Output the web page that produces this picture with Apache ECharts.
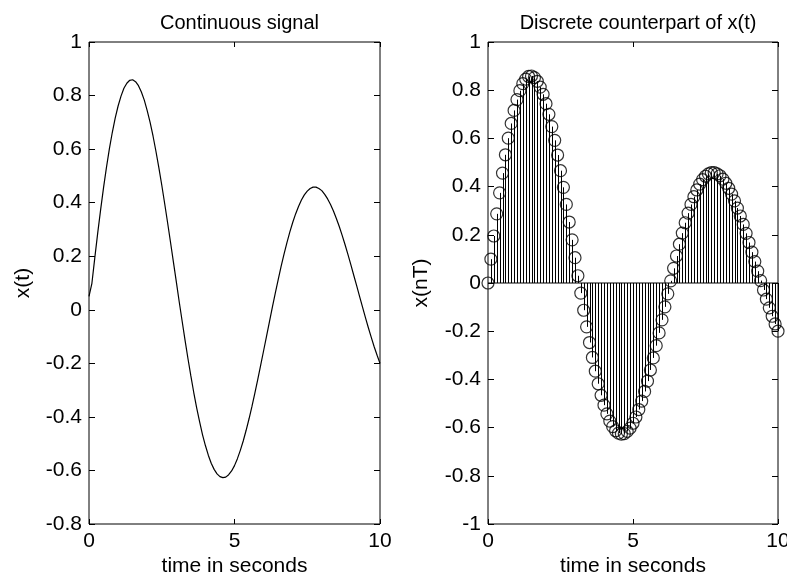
<!DOCTYPE html>
<html>
<head>
<meta charset="utf-8">
<script src="https://cdn.jsdelivr.net/npm/echarts@6/dist/echarts.min.js"></script>
<style>html,body{margin:0;padding:0;background:#fff}#c{width:787px;height:575px}</style>
</head>
<body>
<div id="c"></div>
<script>
var timeSec = [0,0.1,0.2,0.3,0.4,0.5,0.6,0.7,0.8,0.9,1,1.1,1.2,1.3,1.4,1.5,1.6,1.7,1.8,1.9,2,2.1,2.2,2.3,2.4,2.5,2.6,2.7,2.8,2.9,3,3.1,3.2,3.3,3.4,3.5,3.6,3.7,3.8,3.9,4,4.1,4.2,4.3,4.4,4.5,4.6,4.7,4.8,4.9,5,5.1,5.2,5.3,5.4,5.5,5.6,5.7,5.8,5.9,6,6.1,6.2,6.3,6.4,6.5,6.6,6.7,6.8,6.9,7,7.1,7.2,7.3,7.4,7.5,7.6,7.7,7.8,7.9,8,8.1,8.2,8.3,8.4,8.5,8.6,8.7,8.8,8.9,9,9.1,9.2,9.3,9.4,9.5,9.6,9.7,9.8,9.9,10];
var sampleValues = [0,0.099,0.195,0.287,0.374,0.456,0.532,0.601,0.662,0.716,0.761,0.798,0.827,0.846,0.857,0.859,0.852,0.837,0.813,0.783,0.744,0.700,0.649,0.592,0.531,0.466,0.397,0.326,0.253,0.179,0.105,0.030,-0.042,-0.113,-0.182,-0.247,-0.309,-0.366,-0.418,-0.466,-0.507,-0.543,-0.573,-0.596,-0.613,-0.623,-0.627,-0.625,-0.616,-0.602,-0.582,-0.556,-0.525,-0.490,-0.450,-0.407,-0.361,-0.311,-0.260,-0.207,-0.153,-0.099,-0.045,0.009,0.061,0.112,0.161,0.207,0.250,0.290,0.326,0.358,0.386,0.410,0.429,0.443,0.453,0.458,0.458,0.453,0.445,0.431,0.414,0.393,0.369,0.341,0.311,0.278,0.243,0.206,0.168,0.128,0.089,0.049,0.010,-0.029,-0.067,-0.103,-0.138,-0.170,-0.200];
var continuousValues = [0.05,0.099,0.195,0.287,0.374,0.456,0.532,0.601,0.662,0.716,0.761,0.798,0.827,0.846,0.857,0.859,0.852,0.837,0.813,0.783,0.744,0.700,0.649,0.592,0.531,0.466,0.397,0.326,0.253,0.179,0.105,0.030,-0.042,-0.113,-0.182,-0.247,-0.309,-0.366,-0.418,-0.466,-0.507,-0.543,-0.573,-0.596,-0.613,-0.623,-0.627,-0.625,-0.616,-0.602,-0.582,-0.556,-0.525,-0.490,-0.450,-0.407,-0.361,-0.311,-0.260,-0.207,-0.153,-0.099,-0.045,0.009,0.061,0.112,0.161,0.207,0.250,0.290,0.326,0.358,0.386,0.410,0.429,0.443,0.453,0.458,0.458,0.453,0.445,0.431,0.414,0.393,0.369,0.341,0.311,0.278,0.243,0.206,0.168,0.128,0.089,0.049,0.010,-0.029,-0.067,-0.103,-0.138,-0.170,-0.200];
var titles = ['Continuous signal', 'Discrete counterpart of x(t)'];
var xLabel = 'time in seconds';
var yLabels = ['x(t)', 'x(nT)'];

var FONT = "'Liberation Sans', Arial, sans-serif";
var FS = 21;
var chart = echarts.init(document.getElementById('c'), null, {renderer: 'canvas'});

function pairs(xs, ys) { return xs.map(function (x, i) { return [x, ys[i]]; }); }

function xAx(grid, pos, showLabel, name) {
  return {
    type: 'value', gridIndex: grid, position: pos, min: 0, max: 10, interval: 5,
    axisLine: {show: false, onZero: false},
    axisTick: {show: true, inside: true, length: 5, lineStyle: {color: '#000'}},
    axisLabel: {show: showLabel, color: '#000', fontFamily: FONT, fontSize: FS, margin: 7},
    splitLine: {show: false},
    name: name || '', nameLocation: 'middle', nameGap: 32, nameMoveOverlap: false,
    nameTextStyle: {color: '#000', fontFamily: FONT, fontSize: FS}
  };
}
function yAx(grid, pos, showLabel, min, name, gap) {
  return {
    type: 'value', gridIndex: grid, position: pos, min: min, max: 1, interval: 0.2,
    axisLine: {show: false, onZero: false},
    axisTick: {show: true, inside: true, length: 6, lineStyle: {color: '#000'}},
    axisLabel: {show: showLabel, color: '#000', fontFamily: FONT, fontSize: FS, margin: 7},
    splitLine: {show: false},
    name: name || '', nameLocation: 'middle', nameGap: gap || 30, nameMoveOverlap: false,
    nameTextStyle: {color: '#000', fontFamily: FONT, fontSize: FS}
  };
}

var option = {
  backgroundColor: '#fff',
  animation: false,
  title: [
    {text: titles[0], left: 234.5, top: 8, textAlign: 'center', textStyle: {color: '#000', fontFamily: FONT, fontSize: 20, fontWeight: 'normal'}},
    {text: titles[1], left: 633, top: 8, textAlign: 'center', textStyle: {color: '#000', fontFamily: FONT, fontSize: 20, fontWeight: 'normal'}}
  ],
  grid: [
    {left: 89, right: 407, top: 42, bottom: 51, outerBoundsMode: 'none', containLabel: false, show: true, borderColor: '#000', borderWidth: 1, backgroundColor: 'transparent'},
    {left: 488, right: 9, top: 42, bottom: 51, outerBoundsMode: 'none', containLabel: false, show: true, borderColor: '#000', borderWidth: 1, backgroundColor: 'transparent'}
  ],
  xAxis: [
    xAx(0, 'bottom', true, xLabel), xAx(0, 'top', false),
    xAx(1, 'bottom', true, xLabel), xAx(1, 'top', false)
  ],
  yAxis: [
    yAx(0, 'left', true, -0.8, yLabels[0], 55), yAx(0, 'right', false, -0.8),
    yAx(1, 'left', true, -1, yLabels[1], 56), yAx(1, 'right', false, -1)
  ],
  series: [
    {
      type: 'line', xAxisIndex: 0, yAxisIndex: 0,
      data: pairs(timeSec, continuousValues),
      showSymbol: false, symbol: 'none',
      lineStyle: {color: '#000', width: 1.2}
    },
    {
      type: 'custom', xAxisIndex: 2, yAxisIndex: 2,
      data: pairs(timeSec, sampleValues),
      renderItem: function (params, api) {
        var p0 = api.coord([api.value(0), 0]);
        var p1 = api.coord([api.value(0), api.value(1)]);
        return {type: 'line', shape: {x1: Math.round(p0[0]) + 0.5, y1: p0[1], x2: Math.round(p1[0]) + 0.5, y2: p1[1]}, style: {stroke: '#000', lineWidth: 1}};
      },
      silent: true
    },
    {
      type: 'line', xAxisIndex: 2, yAxisIndex: 2,
      data: [[timeSec[0], 0], [timeSec[timeSec.length - 1], 0]],
      symbol: 'none', lineStyle: {color: '#000', width: 1}, silent: true
    },
    {
      type: 'scatter', xAxisIndex: 2, yAxisIndex: 2,
      data: pairs(timeSec, sampleValues),
      symbol: 'circle', symbolSize: 12, clip: false,
      itemStyle: {color: 'rgba(0,0,0,0)', borderColor: '#000', borderWidth: 1.2},
      silent: true
    }
  ]
};
chart.setOption(option);
</script>
</body>
</html>
